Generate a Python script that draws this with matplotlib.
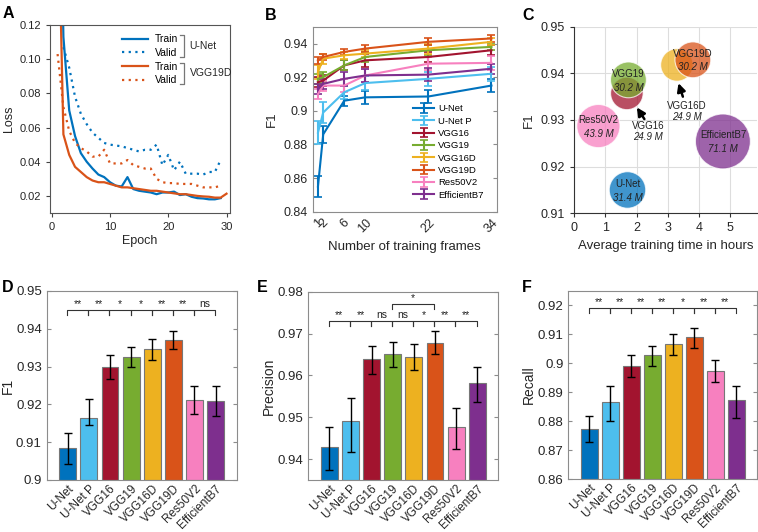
import numpy as np
import matplotlib.pyplot as plt
from matplotlib.lines import Line2D

plt.rcParams['font.family'] = ['Liberation Sans', 'DejaVu Sans']
plt.rcParams['font.size'] = 8

# ---- data -------------------------------------------------------------
models = ['U-Net', 'U-Net P', 'VGG16', 'VGG19', 'VGG16D', 'VGG19D', 'Res50V2', 'EfficientB7']
colors = ['#0072BD', '#4DBEEE', '#A2142F', '#77AC30', '#EDB120', '#D95319', '#F780BF', '#7E2F8E']

# A: loss curves
ep_unet = list(range(1, 30))
unet_train = [0.30, 0.113, 0.070, 0.055, 0.045, 0.040, 0.036, 0.0325, 0.031, 0.028,
              0.026, 0.0255, 0.031, 0.024, 0.023, 0.0225, 0.022, 0.021, 0.022, 0.022,
              0.0225, 0.0205, 0.021, 0.0195, 0.0187, 0.0185, 0.018, 0.018, 0.0187]
ep_unet_val = list(range(2, 30))
unet_valid = [0.107, 0.095, 0.078, 0.068, 0.062, 0.057, 0.054, 0.051, 0.050, 0.0495,
              0.049, 0.048, 0.047, 0.046, 0.047, 0.047, 0.050, 0.038, 0.044, 0.035,
              0.040, 0.033, 0.033, 0.033, 0.0325, 0.034, 0.034, 0.041]
ep_vgg = list(range(1, 31))
vgg_train = [0.21, 0.056, 0.044, 0.037, 0.034, 0.031, 0.029, 0.028, 0.028, 0.027,
             0.026, 0.025, 0.025, 0.0245, 0.024, 0.0235, 0.023, 0.023, 0.0225, 0.022,
             0.0215, 0.021, 0.021, 0.0205, 0.020, 0.0197, 0.0195, 0.019, 0.019, 0.0213]
ep_vgg_val = list(range(1, 30))
vgg_valid = [0.103, 0.072, 0.058, 0.051, 0.048, 0.046, 0.043, 0.043, 0.047, 0.039,
             0.039, 0.039, 0.041, 0.038, 0.037, 0.036, 0.036, 0.030, 0.028, 0.0275,
             0.0275, 0.027, 0.027, 0.027, 0.026, 0.025, 0.025, 0.025, 0.026]

# B: F1 vs number of training frames
frames = [1, 2, 6, 10, 22, 34]
b_f1 = {
    'U-Net':       [0.855, 0.886, 0.906, 0.908, 0.9085, 0.915],
    'U-Net P':     [0.887, 0.899, 0.911, 0.9165, 0.919, 0.922],
    'VGG16':       [0.917, 0.918, 0.927, 0.930, 0.932, 0.936],
    'VGG19':       [0.919, 0.920, 0.927, 0.932, 0.936, 0.938],
    'VGG16D':      [0.923, 0.931, 0.933, 0.934, 0.937, 0.941],
    'VGG19D':      [0.930, 0.932, 0.935, 0.937, 0.941, 0.943],
    'Res50V2':     [0.910, 0.915, 0.915, 0.921, 0.928, 0.9285],
    'EfficientB7': [0.913, 0.916, 0.919, 0.921, 0.9215, 0.925],
}
b_err = {
    'U-Net':       [0.0065, 0.005, 0.003, 0.004, 0.004, 0.004],
    'U-Net P':     [0.007, 0.006, 0.004, 0.004, 0.004, 0.004],
    'VGG16':       [0.003, 0.003, 0.003, 0.004, 0.003, 0.003],
    'VGG19':       [0.003, 0.003, 0.003, 0.003, 0.003, 0.002],
    'VGG16D':      [0.004, 0.003, 0.002, 0.002, 0.003, 0.002],
    'VGG19D':      [0.002, 0.002, 0.002, 0.002, 0.002, 0.002],
    'Res50V2':     [0.003, 0.003, 0.004, 0.004, 0.004, 0.004],
    'EfficientB7': [0.003, 0.003, 0.004, 0.004, 0.004, 0.003],
}

# C: bubble chart
c_models = ['U-Net', 'Res50V2', 'VGG16', 'VGG19', 'VGG16D', 'VGG19D', 'EfficientB7']
c_time = [1.71, 0.78, 1.69, 1.74, 3.29, 3.80, 4.76]
c_f1 = [0.915, 0.9287, 0.9357, 0.9386, 0.9418, 0.9429, 0.9254]
c_params = [31.4, 43.9, 24.9, 30.2, 24.9, 30.2, 71.1]
c_colors = ['#0072BD', '#F780BF', '#A2142F', '#77AC30', '#EDB120', '#D95319', '#7E2F8E']

# D/E/F: bar charts (mean, lower and upper end of error bar)
f1_mean = [0.9085, 0.9165, 0.930, 0.9325, 0.9346, 0.9371, 0.9212, 0.9208]
f1_lo = [0.9042, 0.9145, 0.9266, 0.9299, 0.9317, 0.9346, 0.9174, 0.9168]
f1_hi = [0.9124, 0.9213, 0.9330, 0.9351, 0.9373, 0.9394, 0.9249, 0.9249]
f1_sig = ['**', '**', '*', '*', '**', '**', 'ns']

prec_mean = [0.943, 0.9492, 0.9639, 0.965, 0.9645, 0.9678, 0.9476, 0.9583]
prec_lo = [0.9374, 0.9417, 0.9604, 0.962, 0.9612, 0.965, 0.9424, 0.9537]
prec_hi = [0.9476, 0.9545, 0.967, 0.9679, 0.9676, 0.9706, 0.9523, 0.9621]
prec_sig = ['**', '**', 'ns', 'ns', '*', '**', '**']

rec_mean = [0.8772, 0.8867, 0.899, 0.9027, 0.9067, 0.9089, 0.8974, 0.8872]
rec_lo = [0.8728, 0.880, 0.8951, 0.8991, 0.903, 0.9054, 0.8934, 0.8812]
rec_hi = [0.8817, 0.8921, 0.9027, 0.906, 0.9101, 0.912, 0.9012, 0.8921]
rec_sig = ['**', '**', '**', '**', '*', '**', '**']

# ---- figure -----------------------------------------------------------
W, H = 758, 532
fig = plt.figure(figsize=(W / 100, H / 100), dpi=100)
TXT = '#262626'


def px_axes(left, top, right, bottom):
    return fig.add_axes([left / W, 1 - bottom / H, (right - left) / W, (bottom - top) / H])


def fmt(v):
    return f'{v:g}'


def matlab_style(ax, size):
    for s in ax.spines.values():
        s.set_color('#8c8c8c')
        s.set_linewidth(0.8)
    ax.tick_params(direction='in', length=3, color='#8c8c8c', labelcolor=TXT,
                   right=True, labelsize=size)


# A -----------------------------------------------------------------------
axA = px_axes(50, 25, 230, 213)
blue, orange = '#0072BD', '#D95319'
axA.plot(ep_unet, unet_train, color=blue, lw=1.6)
axA.plot(ep_unet_val, unet_valid, color=blue, lw=1.6, ls=(0, (1, 2)))
axA.plot(ep_vgg, vgg_train, color=orange, lw=1.6)
axA.plot(ep_vgg_val, vgg_valid, color=orange, lw=1.6, ls=(0, (1, 2)))
axA.set_xlim(-0.3, 30.6)
axA.set_ylim(0.01, 0.12)
axA.set_xticks([0, 10, 20, 30])
at = [0.02, 0.04, 0.06, 0.08, 0.10, 0.12]
axA.set_yticks(at)
axA.set_yticklabels([f'{v:.2f}' for v in at])
axA.tick_params(direction='out', length=3, color='#444444', labelcolor=TXT, labelsize=8)
for s in axA.spines.values():
    s.set_color('#555555')
    s.set_linewidth(0.8)
axA.set_xlabel('Epoch', fontsize=9, color=TXT, labelpad=2)
axA.set_ylabel('Loss', fontsize=9, color=TXT, labelpad=3)

handles = [Line2D([], [], color=blue, lw=1.6), Line2D([], [], color=blue, lw=1.6, ls=(0, (1, 2))),
           Line2D([], [], color=orange, lw=1.6), Line2D([], [], color=orange, lw=1.6, ls=(0, (1, 2)))]
legA = axA.legend(handles, ['Train', 'Valid', 'Train', 'Valid'], loc='upper left',
                  bbox_to_anchor=(0.355, 0.995), frameon=False, fontsize=7.5, handlelength=2.5,
                  labelspacing=0.35, handletextpad=0.6, borderpad=0.3)

# B -----------------------------------------------------------------------
axB = px_axes(312.7, 26.7, 496.7, 211.7)
for name, col in zip(models, colors):
    axB.errorbar(frames, b_f1[name], yerr=b_err[name], color=col, lw=1.5,
                 capsize=3, capthick=1.2, label=name)
axB.set_xlim(0, 35)
axB.set_ylim(0.84, 0.95)
axB.set_xticks(frames)
axB.set_xticklabels([str(f) for f in frames], rotation=45)
bt = [0.84, 0.86, 0.88, 0.90, 0.92, 0.94]
axB.set_yticks(bt)
axB.set_yticklabels([fmt(v) for v in bt])
matlab_style(axB, 9)
axB.tick_params(axis='x', length=0)
axB.set_xlabel('Number of training frames', fontsize=9.5, color=TXT)
axB.set_ylabel('F1', fontsize=9.5, color=TXT)
axB.legend(loc='lower left', bbox_to_anchor=(0.5, 0.02), frameon=False, fontsize=6.8,
           labelspacing=0.35, handlelength=2.2, handletextpad=0.4)

# C -----------------------------------------------------------------------
axC = px_axes(574, 26.7, 757, 213.3)
axC.scatter(c_time, c_f1, s=np.array(c_params) * 22, c=c_colors, alpha=0.75,
            edgecolors='white', linewidths=0.8, zorder=3)
axC.set_xlim(0, 5.85)
axC.set_ylim(0.91, 0.95)
axC.set_xticks([0, 1, 2, 3, 4, 5])
ct = [0.91, 0.92, 0.93, 0.94, 0.95]
axC.set_yticks(ct)
axC.set_yticklabels([fmt(v) for v in ct])
axC.grid(True, color='#dddddd', lw=0.8, zorder=0)
axC.set_axisbelow(True)
axC.spines['top'].set_visible(False)
axC.spines['right'].set_visible(False)
for s in ['left', 'bottom']:
    axC.spines[s].set_color('#333333')
axC.tick_params(direction='out', length=3, color='#333333', labelcolor=TXT, labelsize=9)
axC.set_xlabel('Average training time in hours', fontsize=9.5, color=TXT)
axC.set_ylabel('F1', fontsize=9.5, color=TXT)
for name, x, y, p in zip(c_models, c_time, c_f1, c_params):
    if name in ('VGG16', 'VGG16D'):
        continue
    axC.annotate(name, (x, y), xytext=(0, 4.5), textcoords='offset points',
                 ha='center', va='center', fontsize=7, color='#222222', zorder=5)
    axC.annotate(f'{p} M', (x, y), xytext=(0, -5.5), textcoords='offset points',
                 ha='center', va='center', fontsize=7, style='italic', color='#222222', zorder=5)
# labels placed outside the bubbles, with arrows
for name, p, tx, ty in [('VGG16', 24.9, 2.36, 0.9287), ('VGG16D', 24.9, 3.61, 0.933)]:
    axC.text(tx, ty, name, ha='center', va='center', fontsize=7, color='#222222')
    axC.text(tx, ty - 0.0023, f'{p} M', ha='center', va='center', fontsize=7,
             style='italic', color='#222222')
arrow = dict(arrowstyle='-|>', color='black', lw=1.8, mutation_scale=12, shrinkA=0, shrinkB=0)
axC.annotate('', xy=(2.01, 0.9327), xytext=(2.25, 0.9302), arrowprops=arrow, zorder=6)
axC.annotate('', xy=(3.34, 0.9379), xytext=(3.48, 0.9350), arrowprops=arrow, zorder=6)


# D/E/F -------------------------------------------------------------------
def bracket(ax, x0, x1, y, h, text):
    ax.plot([x0, x0, x1, x1], [y - h, y, y, y - h], color='#333333', lw=0.8, zorder=4)
    ax.text((x0 + x1) / 2, y + h * 0.1, text, ha='center', va='bottom', fontsize=7.5,
            color='#222222')


def bar_panel(ax, mean, lo, hi, ylim, yticks, ylabel, sig, sig_y):
    x = np.arange(1, len(models) + 1)
    mean, lo, hi = np.array(mean), np.array(lo), np.array(hi)
    ax.bar(x, mean - ylim[0], bottom=ylim[0], width=0.8, color=colors,
           edgecolor='#777777', linewidth=0.8, zorder=2)
    ax.errorbar(x, mean, yerr=[mean - lo, hi - mean], fmt='none', ecolor='black',
                elinewidth=1, capsize=3, capthick=1, zorder=3)
    ax.set_xlim(0, len(models) + 1)
    ax.set_ylim(*ylim)
    ax.set_xticks(x)
    ax.set_xticklabels(models, rotation=45, ha='right', rotation_mode='anchor')
    ax.set_yticks(yticks)
    ax.set_yticklabels([fmt(v) for v in yticks])
    matlab_style(ax, 9.5)
    ax.tick_params(axis='x', length=0, pad=2, labelsize=8.5)
    ax.set_ylabel(ylabel, fontsize=10, color=TXT, labelpad=1)
    h = (ylim[1] - ylim[0]) * 0.027
    for i, s in enumerate(sig):
        bracket(ax, x[i] - 0.03, x[i + 1] - 0.03, sig_y, h, s)
    return x, h


axD = px_axes(46.7, 291, 236.7, 480)
bar_panel(axD, f1_mean, f1_lo, f1_hi, (0.9, 0.95), [0.9, 0.91, 0.92, 0.93, 0.94, 0.95],
          'F1', f1_sig, 0.945)

axE = px_axes(308.3, 291.7, 498.3, 480)
xE, hE = bar_panel(axE, prec_mean, prec_lo, prec_hi, (0.935, 0.98),
                   [0.94, 0.95, 0.96, 0.97, 0.98], 'Precision', prec_sig, 0.9731)
bracket(axE, xE[3] - 0.03, xE[5] - 0.03, 0.9771, hE, '*')

axF = px_axes(568.3, 290.7, 757.3, 479.3)
bar_panel(axF, rec_mean, rec_lo, rec_hi, (0.86, 0.925),
          [0.86, 0.87, 0.88, 0.89, 0.9, 0.91, 0.92], 'Recall', rec_sig, 0.9192)

# panel letters
for letter, x, y in [('A', 3, 14), ('B', 265, 16), ('C', 522, 16),
                     ('D', 2, 287), ('E', 257, 287), ('F', 522, 287)]:
    fig.text(x / W, 1 - y / H, letter, fontsize=11.5, fontweight='bold', va='center')

# brackets grouping the legend entries in A
fig.canvas.draw()
r = fig.canvas.get_renderer()
inv = axA.transAxes.inverted()
boxes = [inv.transform(t.get_window_extent(r)) for t in legA.get_texts()]
xr = max(b[1][0] for b in boxes) + 0.035
for (i, j), grp in [((0, 1), 'U-Net'), ((2, 3), 'VGG19D')]:
    ytop = boxes[i][1][1] - 0.005
    ybot = boxes[j][0][1] + 0.005
    axA.plot([xr - 0.025, xr, xr, xr - 0.025], [ytop, ytop, ybot, ybot],
             transform=axA.transAxes, color='#777777', lw=0.9, clip_on=False)
    axA.text(xr + 0.03, (ytop + ybot) / 2, grp, transform=axA.transAxes,
             ha='left', va='center', fontsize=7.5, color=TXT)

fig.savefig('out.png', dpi=100)
